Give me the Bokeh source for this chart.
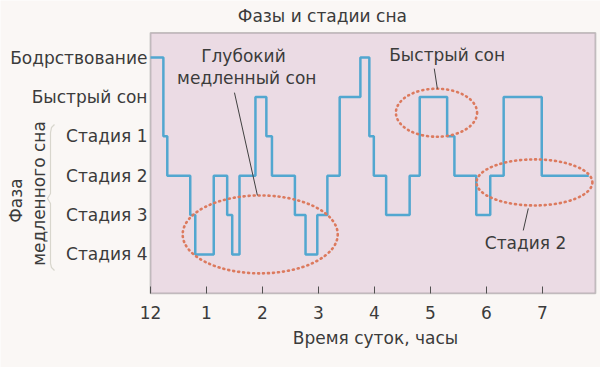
from bokeh.plotting import figure
from bokeh.models import FixedTicker, Label, PolyAnnotation, BoxAnnotation, LinearAxis
from bokeh.embed import file_html
from bokeh.resources import INLINE
from math import pi

# ---- data ----
stage_labels = ["Стадия 4", "Стадия 3", "Стадия 2", "Стадия 1", "Быстрый сон", "Бодрствование"]
hour_ticks = [0, 1, 2, 3, 4, 5, 6, 7]
hour_labels = ["12", "1", "2", "3", "4", "5", "6", "7"]
# start time of each episode (hours after midnight) and its stage level (0 = Стадия 4 ... 5 = Бодрствование)
times = [0.00, 0.23, 0.30, 0.71, 0.80, 1.13, 1.37, 1.46, 1.59, 1.875, 2.07, 2.17, 2.58, 2.77,
         2.98, 3.16, 3.38, 3.75, 3.91, 3.99, 4.21, 4.63, 4.81, 5.30, 5.43, 5.82, 6.07, 6.31,
         6.99, 7.83]
levels = [5, 3, 2, 1, 0, 2, 1, 0, 2, 4, 3, 2, 1, 0,
          1, 2, 4, 5, 3, 2, 1, 2, 4, 3, 2, 1, 2, 4,
          2, 2]

FONT = "DejaVu Sans"
TXT = "#3b3b3b"
X_END = 7.95       # right edge of the plotting box (hours)
Y_LO, Y_HI = -0.99, 5.63

p = figure(width=600, height=367, x_range=(-2.68, 8.04), y_range=(-2.87, 6.45),
           output_backend="svg", toolbar_location=None,
           x_axis_location=None, y_axis_location=None, min_border=0)
p.background_fill_color = "#faf7f5"
p.border_fill_color = "#faf7f5"
p.outline_line_color = None
p.grid.visible = False

# plotting box
p.add_layout(BoxAnnotation(left=0, right=X_END, bottom=Y_LO, top=Y_HI, fill_color="#ebdbe4",
                           fill_alpha=1, line_color="#4f4f4f", line_width=1.8, level="underlay"))

# x axis
xaxis = LinearAxis(fixed_location=Y_LO, ticker=FixedTicker(ticks=hour_ticks))
xaxis.major_label_overrides = {t: l for t, l in zip(hour_ticks, hour_labels)}
xaxis.axis_line_color = None
xaxis.major_tick_in = 7
xaxis.major_tick_out = 0
xaxis.major_tick_line_color = "#505050"
xaxis.minor_tick_line_color = None
xaxis.major_label_standoff = 13
xaxis.major_label_text_font = FONT
xaxis.major_label_text_font_size = "17px"
xaxis.major_label_text_color = TXT
p.add_layout(xaxis, "below")

# y axis
yaxis = LinearAxis(fixed_location=0, ticker=FixedTicker(ticks=list(range(len(stage_labels)))))
yaxis.major_label_overrides = {i: l for i, l in enumerate(stage_labels)}
yaxis.axis_line_color = None
yaxis.major_tick_line_color = None
yaxis.minor_tick_line_color = None
yaxis.major_tick_in = 0
yaxis.major_tick_out = 0
yaxis.major_label_standoff = 3
yaxis.major_label_text_font = FONT
yaxis.major_label_text_font_size = "17px"
yaxis.major_label_text_color = TXT
p.add_layout(yaxis, "left")

# hypnogram
p.step(times, levels, mode="after", line_color="#52a7d0", line_width=2.5)

# dotted ellipses
ell = dict(fill_color=None, line_color="#dc7a5e", line_width=2.6, line_dash="1 4", line_cap="round")
p.ellipse(x=[1.96, 5.11, 6.86], y=[0.51, 3.60, 1.83], width=[2.77, 1.45, 2.07],
          height=[1.98, 1.22, 1.17], **ell)

# leader lines
p.segment(x0=[1.50, 5.07, 6.75], y0=[4.11, 4.72, 1.17], x1=[1.91, 5.125, 6.66], y1=[1.50, 4.21, 0.61],
          line_color="#404040", line_width=1)

def lab(x, y, text, size="17px", angle=0, color=TXT, font=FONT):
    p.add_layout(Label(x=x, y=y, text=text, text_font=font, text_font_size=size,
                       text_color=color, text_align="center", text_baseline="middle", angle=angle))

lab(1.66, 5.03, "Глубокий")
lab(1.72, 4.49, "медленный сон")
lab(5.30, 5.06, "Быстрый сон")
lab(6.70, 0.28, "Стадия 2")
lab(3.07, 6.05, "Фазы и стадии сна")
lab(4.02, -2.11, "Время суток, часы")
lab(-2.41, 1.37, "Фаза", angle=pi / 2)
lab(-2.00, 1.55, "медленного сна", angle=pi / 2)

# brace
def bx(px):
    return (px - 150) / 55.97

def by(py):
    return (254 - py) / 39.39

pts = [(54, 124), (51, 127), (50, 132), (50, 193), (47, 198), (50, 203), (50, 263), (51, 267), (54, 270)]
xs = [bx(a) for a, b in pts]
ys = [by(b) for a, b in pts]
p.add_layout(PolyAnnotation(xs=xs + xs[::-1], ys=ys + ys[::-1], fill_alpha=0,
                            line_color="#8a8a70", line_width=1.2))

open("out.html", "w").write(file_html(p, INLINE))
